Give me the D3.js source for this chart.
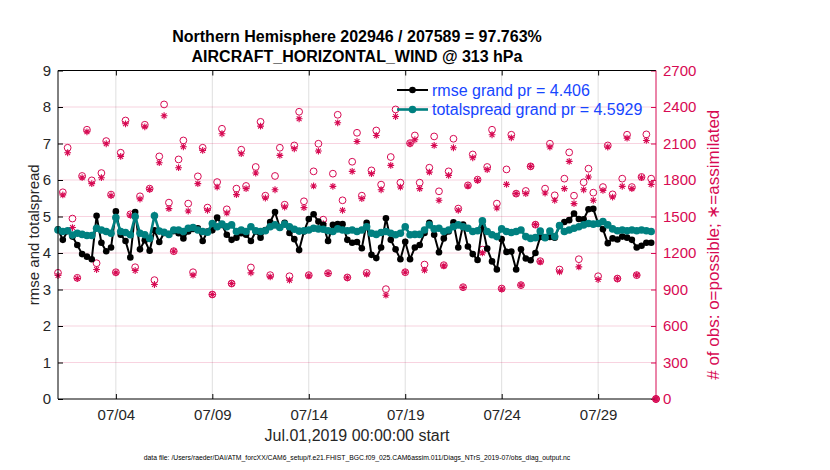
<!DOCTYPE html>
<html>
<head>
<meta charset="utf-8">
<script src="https://cdn.jsdelivr.net/npm/d3@7"></script>
<style>
  body { margin: 0; background: #fff; }
  svg { font-family: "Liberation Sans", Arial, Helvetica, sans-serif; }
</style>
</head>
<body>
<svg id="chart" width="830" height="470"></svg>
<script>
// 6-hourly bins starting Jul.01,2019 00:00 UTC
var startTime = Date.UTC(2019, 6, 1, 0, 0, 0)
var binHours = 6

var rmse = [
  4.65, 4.36, 4.60, 4.45, 4.22, 3.97, 3.90, 3.83, 5.02, 4.28,
  4.05, 4.15, 5.14, 4.50, 4.33, 3.88, 5.12, 4.10, 4.35, 4.06,
  4.62, 4.30, 4.55, 4.52, 4.60, 4.54, 4.40, 4.59, 4.66, 4.68,
  4.33, 4.59, 4.62, 4.97, 4.77, 4.50, 4.36, 4.42, 4.54, 4.50,
  4.33, 4.59, 4.42, 4.63, 4.85, 5.12, 4.70, 4.83, 4.55, 4.38,
  4.08, 4.59, 4.93, 5.06, 4.86, 4.77, 4.33, 4.77, 4.79, 4.79,
  4.36, 4.28, 4.30, 4.13, 4.83, 3.95, 3.86, 4.15, 4.95, 4.36,
  4.10, 3.83, 4.31, 3.83, 4.15, 4.22, 4.55, 4.83, 4.50, 4.02,
  4.40, 4.59, 4.84, 4.15, 4.78, 4.18, 3.97, 3.81, 4.75, 4.12,
  3.77, 3.55, 4.38, 4.03, 4.04, 3.55, 4.10, 3.85, 3.80, 4.00,
  4.44, 4.42, 4.44, 4.42, 4.75, 4.85, 4.90, 5.08, 4.93, 4.92,
  5.20, 5.21, 4.81, 4.65, 4.27, 4.40, 4.37, 4.45, 4.42, 4.36,
  4.15, 4.20, 4.28, 4.28
]

var totalspread = [
  4.63, 4.59, 4.61, 4.49, 4.54, 4.51, 4.48, 4.48, 4.68, 4.63,
  4.59, 4.54, 4.97, 4.59, 4.56, 4.50, 5.00, 4.54, 4.50, 4.40,
  5.02, 4.60, 4.57, 4.51, 4.63, 4.63, 4.59, 4.68, 4.70, 4.63,
  4.59, 4.57, 4.81, 4.72, 4.79, 4.72, 4.77, 4.59, 4.63, 4.59,
  4.72, 4.61, 4.59, 4.61, 4.72, 4.77, 4.70, 4.79, 4.72, 4.65,
  4.60, 4.61, 4.63, 4.68, 4.66, 4.65, 4.61, 4.59, 4.66, 4.63,
  4.61, 4.63, 4.59, 4.63, 4.72, 4.54, 4.51, 4.56, 4.59, 4.54,
  4.50, 4.54, 4.72, 4.50, 4.51, 4.51, 4.63, 4.77, 4.66, 4.68,
  4.59, 4.63, 4.72, 4.77, 4.72, 4.68, 4.59, 4.61, 4.88, 4.59,
  4.50, 4.45, 4.66, 4.59, 4.56, 4.59, 4.63, 4.45, 4.40, 4.42,
  4.60, 4.42, 4.60, 4.45, 4.75, 4.59, 4.63, 4.68, 4.72, 4.77,
  4.81, 4.79, 4.81, 4.86, 4.77, 4.66, 4.61, 4.63, 4.61, 4.63,
  4.61, 4.63, 4.61, 4.59
]

var obsPossible = [
  1037, 1699, 2065, 1483, 996, 1833, 2213, 1797, 1116, 1857,
  2120, 1680, 1042, 2024, 2289, 1518, 1083, 1666, 2254, 1729,
  977, 1994, 2421, 1614, 1215, 1969, 2125, 1606, 1042, 1830,
  2065, 1573, 859, 1783, 2221, 1559, 949, 1729, 2049, 1751,
  1081, 1907, 2278, 1671, 1018, 1833, 2065, 1597, 1009, 2084,
  2361, 1625, 1018, 1871, 2098, 1474, 1034, 1852, 2336, 1633,
  999, 1950, 2188, 1671, 1037, 1879, 2207, 1762, 903, 1989,
  2380, 1778, 1042, 2103, 2166, 1778, 1105, 1901, 2158, 1707,
  1100, 1871, 2139, 1565, 919, 1756, 2010, 1803, 1228, 1907,
  2213, 1606, 908, 1887, 2172, 1688, 936, 1710, 1912, 1433,
  1133, 1729, 2098, 1674, 1064, 1811, 2027, 1671, 1149, 1781,
  1893, 1696, 1009, 1742, 2084, 1682, 990, 1811, 2172, 1742,
  1018, 1825, 2175, 1811, 0
]

var obsAssimilated = [
  1015, 1677, 2024, 1409, 990, 1819, 2196, 1770, 1064, 1819,
  2098, 1671, 1037, 1994, 2262, 1510, 1056, 1644, 2237, 1723,
  941, 1942, 2328, 1565, 1215, 1901, 2073, 1545, 1018, 1770,
  2043, 1551, 859, 1742, 2180, 1529, 949, 1680, 2016, 1729,
  1037, 1857, 2243, 1652, 1004, 1720, 2002, 1578, 977, 2057,
  2303, 1573, 1012, 1751, 2038, 1442, 1031, 1748, 2270, 1551,
  996, 1871, 2117, 1647, 1026, 1852, 2166, 1720, 853, 1920,
  2322, 1742, 1042, 2098, 2131, 1729, 1059, 1865, 2084, 1633,
  1094, 1838, 2065, 1551, 916, 1751, 1983, 1797, 1201, 1885,
  2172, 1570, 903, 1764, 2147, 1688, 936, 1688, 1912, 1433,
  1127, 1693, 2071, 1633, 1045, 1729, 1953, 1606, 1086, 1720,
  1825, 1633, 982, 1715, 2071, 1660, 988, 1748, 2144, 1729,
  1018, 1819, 2125, 1764, 0
]

var xTickLabels = ['07/04', '07/09', '07/14', '07/19', '07/24', '07/29']
var yLeftTicks = [0, 1, 2, 3, 4, 5, 6, 7, 8, 9]
var yRightTicks = [0, 300, 600, 900, 1200, 1500, 1800, 2100, 2400, 2700]

var legendLabels = ['rmse grand pr = 4.406', 'totalspread grand pr = 4.5929']
var titleLines = ['Northern Hemisphere 202946 / 207589 = 97.763%', 'AIRCRAFT_HORIZONTAL_WIND @ 313 hPa']
var yLeftLabel = 'rmse and totalspread'
var yRightLabel = '# of obs: o=possible; \u2217=assimilated'
var xLabel = 'Jul.01,2019 00:00:00 start'
var footer = 'data file: /Users/raeder/DAI/ATM_forcXX/CAM6_setup/f.e21.FHIST_BGC.f09_025.CAM6assim.011/Diags_NTrS_2019-07/obs_diag_output.nc'

var
  obsColor = '#d70a53',
  teal = '#008080',
  legendBlue = '#1646ff',
  box = {left: 58, right: 656, top: 70.5, bottom: 399},
  svg = d3.select('#chart')

function binTime(i) {
  return new Date(startTime + i * binHours * 3600 * 1000)
}

function tickDate(label) {
  var p = label.split('/')
  return new Date(Date.UTC(2019, +p[0] - 1, +p[1]))
}

var
  x = d3.scaleUtc().domain([new Date(startTime), new Date(Date.UTC(2019, 7, 1))]).range([box.left, box.right]),
  yL = d3.scaleLinear().domain([0, 9]).range([box.bottom, box.top]),
  yR = d3.scaleLinear().domain([0, 2700]).range([box.bottom, box.top])

// grid
svg.append('g').selectAll('line')
  .data(xTickLabels)
  .enter().append('line')
  .attr('x1', function(d){ return x(tickDate(d)) })
  .attr('x2', function(d){ return x(tickDate(d)) })
  .attr('y1', box.top).attr('y2', box.bottom)
  .attr('stroke', '#000').attr('stroke-opacity', 0.13).attr('stroke-width', 1)

svg.append('g').selectAll('line')
  .data(yRightTicks.slice(1, -1))
  .enter().append('line')
  .attr('x1', box.left).attr('x2', box.right)
  .attr('y1', function(d){ return yR(d) })
  .attr('y2', function(d){ return yR(d) })
  .attr('stroke', obsColor).attr('stroke-opacity', 0.18).attr('stroke-width', 1)

// obs counts on the right axis
function starPath(cx, cy, r) {
  var d = r * 0.7071
  return 'M' + (cx - r) + ',' + cy + 'H' + (cx + r) +
    'M' + cx + ',' + (cy - r) + 'V' + (cy + r) +
    'M' + (cx - d) + ',' + (cy - d) + 'L' + (cx + d) + ',' + (cy + d) +
    'M' + (cx - d) + ',' + (cy + d) + 'L' + (cx + d) + ',' + (cy - d)
}

svg.append('g').selectAll('circle')
  .data(obsPossible)
  .enter().append('circle')
  .attr('cx', function(d, i){ return x(binTime(i)) })
  .attr('cy', function(d){ return yR(d) })
  .attr('r', 3.4)
  .attr('fill', 'none').attr('stroke', obsColor).attr('stroke-width', 1)

svg.append('g').selectAll('path')
  .data(obsAssimilated)
  .enter().append('path')
  .attr('d', function(d, i){ return starPath(x(binTime(i)), yR(d), 3.4) })
  .attr('fill', 'none').attr('stroke', obsColor).attr('stroke-width', 1.1)

// rmse and totalspread
function drawSeries(values, color, width, r) {
  var line = d3.line()
    .x(function(d, i){ return x(binTime(i)) })
    .y(function(d){ return yL(d) })
  svg.append('path')
    .datum(values)
    .attr('d', line)
    .attr('fill', 'none').attr('stroke', color).attr('stroke-width', width)
  svg.append('g').selectAll('circle')
    .data(values)
    .enter().append('circle')
    .attr('cx', function(d, i){ return x(binTime(i)) })
    .attr('cy', function(d){ return yL(d) })
    .attr('r', r)
    .attr('fill', color)
}

drawSeries(rmse, '#000', 2, 3.3)
drawSeries(totalspread, teal, 2.6, 3.8)

// axes
var
  axisLeft = d3.axisLeft(yL).tickValues(yLeftTicks).tickFormat(d3.format('d')).tickSize(-5).tickPadding(7),
  axisRight = d3.axisRight(yR).tickValues(yRightTicks).tickFormat(d3.format('d')).tickSize(-5).tickPadding(7),
  axisBottom = d3.axisBottom(x).tickValues(xTickLabels.map(tickDate))
    .tickFormat(function(d, i){ return xTickLabels[i] }).tickSize(-5).tickPadding(10),
  axisTop = d3.axisTop(x).tickValues(xTickLabels.map(tickDate)).tickFormat('').tickSize(-5)

var gl = svg.append('g').attr('transform', 'translate(' + box.left + ',0)').call(axisLeft)
var gr = svg.append('g').attr('transform', 'translate(' + box.right + ',0)').call(axisRight)
var gb = svg.append('g').attr('transform', 'translate(0,' + box.bottom + ')').call(axisBottom)
var gt = svg.append('g').attr('transform', 'translate(0,' + box.top + ')').call(axisTop)

;[gl, gb, gt].forEach(function(g){
  g.selectAll('.tick line').attr('stroke', '#000')
  g.selectAll('.tick text').attr('fill', '#262626').style('font-size', '15px')
    .style('font-family', '"Liberation Sans", Arial, sans-serif')
})
gr.selectAll('.tick line').attr('stroke', obsColor)
gr.selectAll('.tick text').attr('fill', obsColor).style('font-size', '15px')
  .style('font-family', '"Liberation Sans", Arial, sans-serif')
// the domain paths carry outer ticks, draw clean box edges instead
;[gl, gr, gb, gt].forEach(function(g){ g.select('.domain').remove() })
svg.append('line').attr('x1', box.left).attr('x2', box.right).attr('y1', box.top).attr('y2', box.top).attr('stroke', '#000')
svg.append('line').attr('x1', box.left).attr('x2', box.right).attr('y1', box.bottom).attr('y2', box.bottom).attr('stroke', '#000')
svg.append('line').attr('x1', box.left).attr('x2', box.left).attr('y1', box.top).attr('y2', box.bottom).attr('stroke', '#000')
svg.append('line').attr('x1', box.right).attr('x2', box.right).attr('y1', box.top).attr('y2', box.bottom).attr('stroke', obsColor)

// last obs bin sits on the corner, keep it above the box edge
svg.append('circle')
  .attr('cx', x(binTime(obsPossible.length - 1)))
  .attr('cy', yR(obsPossible[obsPossible.length - 1]))
  .attr('r', 3.4).attr('fill', 'none').attr('stroke', obsColor)
svg.append('path')
  .attr('d', starPath(x(binTime(obsAssimilated.length - 1)), yR(obsAssimilated[obsAssimilated.length - 1]), 3.4))
  .attr('fill', 'none').attr('stroke', obsColor).attr('stroke-width', 1.1)

// legend
var legendRows = [{label: legendLabels[0], color: '#000', r: 3.3, w: 2}, {label: legendLabels[1], color: teal, r: 3.8, w: 2.6}]
var lg = svg.append('g').selectAll('g')
  .data(legendRows)
  .enter().append('g')
  .attr('transform', function(d, i){ return 'translate(397,' + (90 + i * 19.5) + ')' })
lg.append('line').attr('x1', 0).attr('x2', 31).attr('y1', 0).attr('y2', 0)
  .attr('stroke', function(d){ return d.color }).attr('stroke-width', function(d){ return d.w })
lg.append('circle').attr('cx', 15.5).attr('cy', 0).attr('r', function(d){ return d.r })
  .attr('fill', function(d){ return d.color })
lg.append('text').attr('x', 35).attr('y', 5.5)
  .attr('fill', legendBlue).style('font-size', '16px')
  .text(function(d){ return d.label })

// titles and labels
svg.append('g').selectAll('text')
  .data(titleLines)
  .enter().append('text')
  .attr('x', (box.left + box.right) / 2)
  .attr('y', function(d, i){ return 42 + i * 20 })
  .attr('text-anchor', 'middle')
  .style('font-size', '16px').style('font-weight', 'bold')
  .attr('fill', '#000')
  .text(function(d){ return d })

svg.append('text')
  .attr('transform', 'translate(39,' + ((box.top + box.bottom) / 2) + ') rotate(-90)')
  .attr('text-anchor', 'middle').style('font-size', '15px').attr('fill', '#262626')
  .text(yLeftLabel)

svg.append('text')
  .attr('transform', 'translate(719,' + ((box.top + box.bottom) / 2 + 10) + ') rotate(-90)')
  .attr('text-anchor', 'middle').style('font-size', '17px').attr('fill', obsColor)
  .text(yRightLabel)

svg.append('text')
  .attr('x', (box.left + box.right) / 2).attr('y', 441)
  .attr('text-anchor', 'middle').style('font-size', '16px').attr('fill', '#262626')
  .text(xLabel)

svg.append('text')
  .attr('x', (box.left + box.right) / 2).attr('y', 460)
  .attr('text-anchor', 'middle').style('font-size', '6.8px').attr('fill', '#000')
  .text(footer)
</script>
</body>
</html>
